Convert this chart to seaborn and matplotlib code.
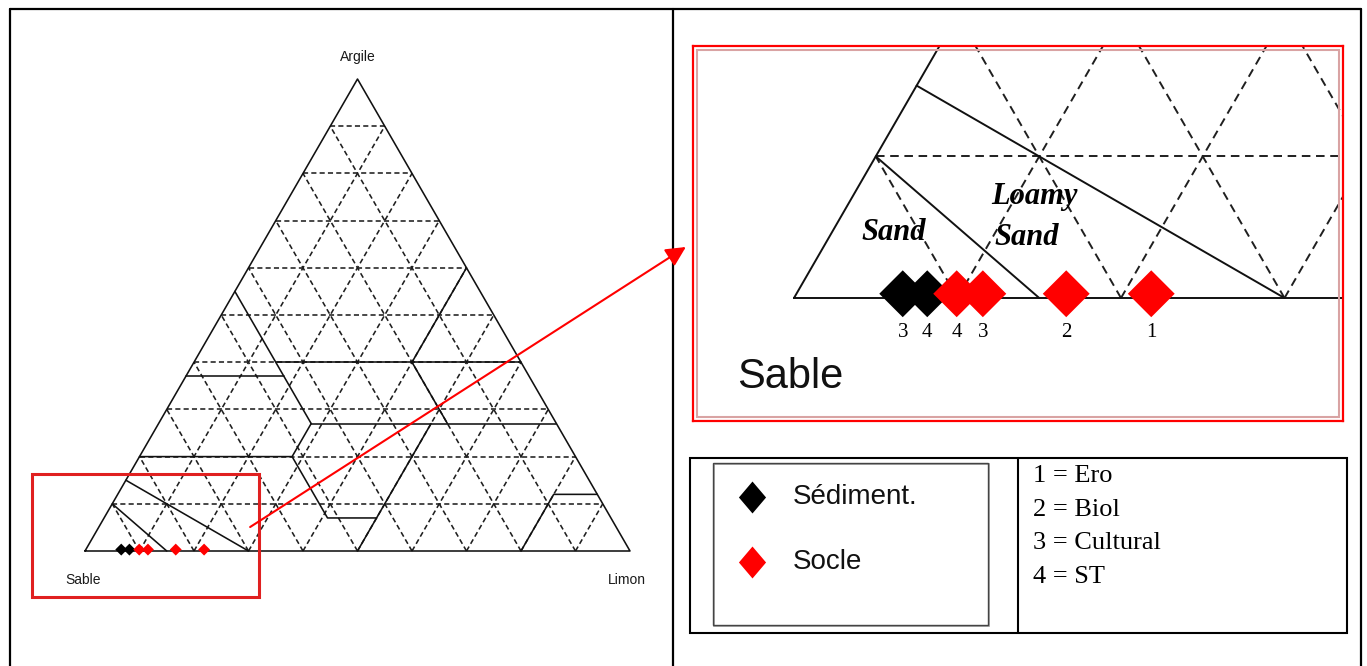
import numpy as np
import pandas as pd
import matplotlib
matplotlib.use("Agg")
import matplotlib.pyplot as plt
from matplotlib.patches import Rectangle, ConnectionPatch
import seaborn as sns

sns.set_style("white")
plt.rcParams["font.family"] = ["Liberation Sans", "DejaVu Sans"]
plt.rcParams["text.color"] = "black"

sample_group = ["Sédiment.", "Sédiment.", "Socle", "Socle", "Socle", "Socle"]
sample_id = ["3", "4", "4", "3", "2", "1"]
sample_silt = [6.5, 8.0, 9.8, 11.4, 16.5, 21.7]
sample_clay = [0.3, 0.3, 0.3, 0.3, 0.3, 0.3]

group_names = ["Sédiment.", "Socle"]
group_colors = {"Sédiment.": "black", "Socle": "red"}
treatment_labels = ["1 = Ero", "2 = Biol", "3 = Cultural", "4 = ST"]

# texture class boundaries as (clay %, silt %) points
class_lines = [
    [(10, 0), (0, 15)],
    [(15, 0), (0, 30)],
    [(20, 0), (20, 28), (27, 28)],
    [(55, 0), (27, 28)],
    [(37, 0), (37, 18)],
    [(40, 15), (40, 60)],
    [(60, 40), (40, 40), (27, 53)],
    [(27, 28), (27, 73)],
    [(27, 50), (0, 50)],
    [(20, 28), (7, 41), (7, 50)],
    [(12, 88), (12, 80), (0, 80)],
]
grid_steps = list(range(10, 100, 10))


def tern(clay, silt):
    clay = np.asarray(clay, float) / 100
    silt = np.asarray(silt, float) / 100
    return silt + clay / 2, clay * np.sqrt(3) / 2


def draw_triangle(ax, lw, dash):
    for k in grid_steps:
        for c, s in ([[k, k], [0, 100 - k]], [[0, 100 - k], [k, k]], [[0, 100 - k], [100 - k, 0]]):
            x, y = tern(c, s)
            ax.plot(x, y, color="#1f1f1f", lw=lw, ls=dash, zorder=1)
    x, y = tern([0, 0, 100, 0], [0, 100, 0, 0])
    ax.plot(x, y, color="#111111", lw=lw, zorder=2)
    for line in class_lines:
        c, s = zip(*line)
        x, y = tern(c, s)
        ax.plot(x, y, color="#111111", lw=lw, zorder=2)


df = pd.DataFrame({"group": sample_group, "id": sample_id,
                   "silt": sample_silt, "clay": sample_clay})
df["X"], df["Y"] = tern(df["clay"], df["silt"])

W, H = 1367, 666
fig = plt.figure(figsize=(W / 100, H / 100), dpi=100)

# page frame / table in pixel units
bg = fig.add_axes([0, 0, 1, 1], zorder=0)
bg.set_xlim(0, W)
bg.set_ylim(H, 0)
bg.axis("off")
for xs, ys in [([10, 1361], [9, 9]), ([10, 10], [9, 666]), ([673, 673], [9, 666]), ([1361, 1361], [9, 666])]:
    bg.plot(xs, ys, color="black", lw=1.6)
bg.add_patch(Rectangle((690, 458), 657, 175, fill=False, ec="black", lw=1.5))
bg.plot([1018, 1018], [458, 633], color="black", lw=1.5)
bg.add_patch(Rectangle((714, 464), 275, 162, fill=False, ec="#999999", lw=1.2))
bg.add_patch(Rectangle((713, 463), 275, 162, fill=False, ec="#444444", lw=1.0))
tall_diamond = [(0, 1), (0.85, 0), (0, -1), (-0.85, 0), (0, 1)]
for i, name in enumerate(group_names):
    yy = 497 + i * 65
    bg.scatter([752], [yy], marker=tall_diamond, s=23 ** 2, color=group_colors[name], linewidths=0)
    bg.text(793, yy, name, fontsize=20, va="center", ha="left", color="#111111")
for i, lab in enumerate(treatment_labels):
    bg.text(1033, 476 + i * 33.7, lab, fontsize=19, va="center", ha="left",
            family=["Liberation Serif", "DejaVu Serif"], color="black")

# main triangle: 545 px per unit, Sable corner at (85, 551)
ax = fig.add_axes([20 / W, (H - 640) / H, 640 / W, 610 / H], zorder=1)
ax.patch.set_alpha(0)
ax.set_xlim((20 - 85) / 545, (660 - 85) / 545)
ax.set_ylim((551 - 640) / 545, (551 - 30) / 545)
ax.axis("off")
draw_triangle(ax, 1.15, (0, (3.2, 2.0)))
sns.scatterplot(data=df, x="X", y="Y", hue="group", palette=group_colors, marker="D",
                s=37, linewidth=0, legend=False, ax=ax, zorder=4)
vx, vy = tern([0, 0, 100], [0, 100, 0])
label_kw = dict(textcoords="offset points", ha="center", va="center", fontsize=10, color="#1a1a1a")
ax.annotate("Sable", (vx[0], vy[0]), xytext=(-1.4, -20.9), **label_kw)
ax.annotate("Limon", (vx[1], vy[1]), xytext=(-2.2, -20.9), **label_kw)
ax.annotate("Argile", (vx[2], vy[2]), xytext=(0, 15.8), **label_kw)
ax.add_patch(Rectangle((-0.097, -0.084), 0.416, 0.225, fill=False, ec="#e02020",
                       lw=2.2, clip_on=False, zorder=5))

# zoomed view: 1635 px per unit, Sable corner at (794, 298)
ins = fig.add_axes([693 / W, (H - 421) / H, 650 / W, 375 / H], zorder=2)
ins.set_xlim((693 - 794) / 1635, (1343 - 794) / 1635)
ins.set_ylim((298 - 421) / 1635, (298 - 46) / 1635)
ins.set_xticks([])
ins.set_yticks([])
for sp in ins.spines.values():
    sp.set_color("red")
    sp.set_linewidth(1.6)
ins.add_patch(Rectangle((0.006, 0.011), 0.988, 0.978, transform=ins.transAxes,
                        fill=False, ec="#d9a3a3", lw=1.5, zorder=6))
draw_triangle(ins, 1.4, (0, (4.4, 2.9)))
sns.scatterplot(data=df, x="X", y="Y", hue="group", palette=group_colors, marker="D",
                s=570, linewidth=0, legend=False, ax=ins, zorder=4)
for xi, lab in zip(df["X"], df["id"]):
    ins.annotate(lab, (xi, 0), xytext=(0, -24.5), textcoords="offset points",
                 ha="center", va="center", fontsize=15, color="black",
                 family=["Liberation Serif", "DejaVu Serif"])
cls_kw = dict(fontsize=22, fontweight="bold", fontstyle="italic", color="black",
              family=["Liberation Serif", "DejaVu Serif"], va="center", zorder=5)
ins.text(0.061, 0.040, "Sand", ha="center", **cls_kw)
ins.text(0.1205, 0.0618, "Loamy", ha="left", **cls_kw)
ins.text(0.1223, 0.0367, "Sand", ha="left", **cls_kw)
ins.annotate("Sable", (0, 0), xytext=(-2.9, -56.9), textcoords="offset points",
             ha="center", va="center", fontsize=30, color="#111111")

con = ConnectionPatch(xyA=(0.303, 0.044), coordsA=ax.transData,
                      xyB=(-0.011, 0.464), coordsB=ins.transAxes,
                      arrowstyle="-|>,head_length=0.5,head_width=0.25",
                      mutation_scale=24, color="red", lw=1.5, zorder=7)
fig.add_artist(con)

fig.savefig("out.png", dpi=100)
